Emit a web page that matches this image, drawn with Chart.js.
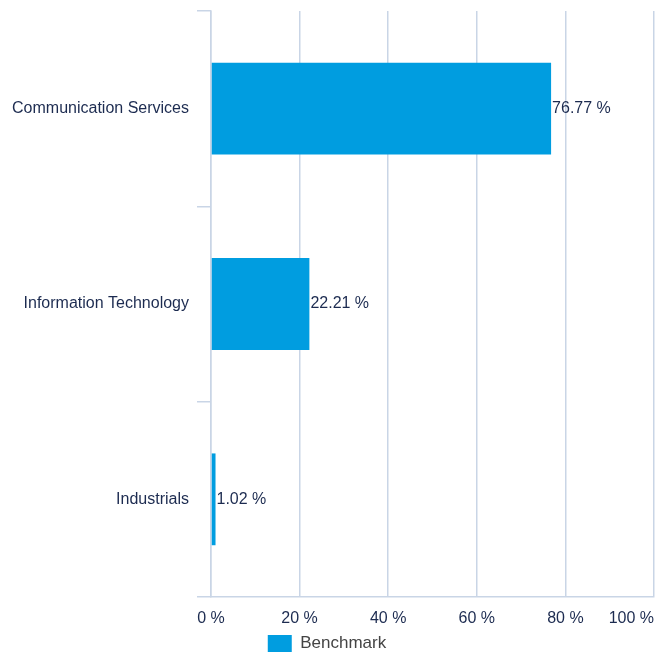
<!DOCTYPE html>
<html>
<head>
<meta charset="utf-8">
<script src="https://cdn.jsdelivr.net/npm/chart.js@4"></script>
<style>
  html, body { margin: 0; padding: 0; background: #fff; }
  #wrap { width: 667px; height: 655px; }
</style>
</head>
<body>
<div id="wrap"><canvas id="myChart"></canvas></div>
<script>
const categories = ['Communication Services', 'Information Technology', 'Industrials'];
const benchmark = [76.77, 22.21, 1.02];
const xTicks = [0, 20, 40, 60, 80, 100];

const textColor = '#1c2b50';
const gridColor = '#c9d5e6';
const barColor = '#009de0';
const font = { family: '"Liberation Sans", Arial, sans-serif', size: 16 };

// value labels at the end of each bar
const valueLabels = {
    id: 'valueLabels',
    afterDatasetsDraw(chart) {
        const ctx = chart.ctx;
        const meta = chart.getDatasetMeta(0);
        ctx.save();
        ctx.font = font.size + 'px ' + font.family;
        ctx.fillStyle = textColor;
        ctx.textAlign = 'left';
        ctx.textBaseline = 'middle';
        meta.data.forEach((bar, i) => {
            ctx.fillText(benchmark[i].toFixed(2) + ' %', bar.x + 1, bar.y);
        });
        ctx.restore();
    }
};

// x tick labels, last one pulled inside the canvas
const xLabels = {
    id: 'xLabels',
    afterDraw(chart) {
        const ctx = chart.ctx;
        const x = chart.scales.x;
        ctx.save();
        ctx.font = font.size + 'px ' + font.family;
        ctx.fillStyle = textColor;
        ctx.textBaseline = 'middle';
        xTicks.forEach((v, i) => {
            ctx.textAlign = i === xTicks.length - 1 ? 'right' : 'center';
            ctx.fillText(v + ' %', x.getPixelForValue(v), x.top + 22);
        });
        ctx.restore();
    }
};

const ctx = document.getElementById('myChart').getContext('2d');
const myChart = new Chart(ctx, {
    type: 'bar',
    data: {
        labels: categories,
        datasets: [{
            label: 'Benchmark',
            data: benchmark,
            backgroundColor: barColor,
            borderWidth: 0,
            barPercentage: 0.94,
            categoryPercentage: 0.5
        }]
    },
    options: {
        indexAxis: 'y',
        responsive: true,
        maintainAspectRatio: false,
        animation: false,
        layout: { padding: { top: 11, right: 13, left: 0, bottom: -7 } },
        plugins: {
            legend: {
                position: 'bottom',
                labels: {
                    boxWidth: 24,
                    boxHeight: 17,
                    color: '#444',
                    font: { family: font.family, size: 17 },
                    padding: 2
                }
            },
            tooltip: { enabled: false }
        },
        scales: {
            x: {
                min: 0,
                max: 100,
                ticks: { display: false, stepSize: 20 },
                grid: { color: gridColor, drawTicks: false, lineWidth: 1.5 },
                border: { color: gridColor, width: 1.5 },
                afterFit(scale) { scale.height = 36; }
            },
            y: {
                ticks: { color: textColor, font: font, padding: 8 },
                grid: { color: gridColor, drawOnChartArea: false, offset: true, tickLength: 14, lineWidth: 1.5 },
                border: { color: gridColor, width: 1.5 },
                afterFit(scale) {
                    scale.width = 211;
                    scale.paddingTop = 0;
                    scale.paddingBottom = 0;
                }
            }
        }
    },
    plugins: [valueLabels, xLabels]
});
</script>
</body>
</html>
